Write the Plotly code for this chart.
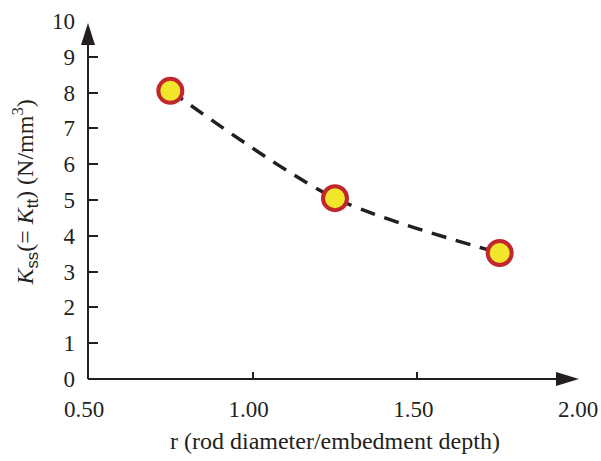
import plotly.graph_objects as go

# data
r_values = [0.75, 1.25, 1.75]
k_values = [8.05, 5.05, 3.52]
x_ticks = [0.5, 1.0, 1.5, 2.0]
x_tick_labels = ["0.50", "1.00", "1.50", "2.00"]
y_ticks = list(range(0, 11))
y_tick_labels = [str(v) for v in y_ticks]

X_RANGE = [0.5, 2.0]
Y_RANGE = [0, 10]
INK = "#231f20"
FONT = "Liberation Serif, Times New Roman, serif"

W, H = 601, 461
M = dict(l=88, r=19, t=21, b=82)
plot_w = W - M["l"] - M["r"]
plot_h = H - M["t"] - M["b"]
px_x = 1.0 / plot_w   # paper units per pixel
px_y = 1.0 / plot_h

fig = go.Figure()

# dashed trend curve
fig.add_trace(go.Scatter(
    x=r_values, y=k_values, mode="lines",
    line=dict(color=INK, width=3.5, dash="15px,10px", shape="spline", smoothing=0.8),
    hoverinfo="skip", showlegend=False,
))
# markers
fig.add_trace(go.Scatter(
    x=r_values, y=k_values, mode="markers",
    marker=dict(size=24, color="#f2e62a", line=dict(color="#c1272d", width=4)),
    showlegend=False,
))

# axis lines with arrow heads (paper coordinates so they are not clipped)
x_tip = 1 - 3 * px_x
y_tip = 1 - 2 * px_y
fig.add_shape(type="line", xref="paper", yref="paper",
              x0=0, y0=0, x1=x_tip - 5 * px_x, y1=0,
              line=dict(color=INK, width=2), layer="above")
fig.add_shape(type="line", xref="paper", yref="paper",
              x0=0, y0=0, x1=0, y1=y_tip - 5 * px_y,
              line=dict(color=INK, width=2), layer="above")
fig.add_shape(type="path", xref="paper", yref="paper",
              path=(f"M{x_tip:.5f},0 L{x_tip - 23 * px_x:.5f},{7 * px_y:.5f} "
                    f"L{x_tip - 23 * px_x:.5f},{-7 * px_y:.5f} Z"),
              fillcolor=INK, line=dict(width=0), layer="above")
fig.add_shape(type="path", xref="paper", yref="paper",
              path=(f"M0,{y_tip:.5f} L{-7 * px_x:.5f},{y_tip - 22 * px_y:.5f} "
                    f"L{7 * px_x:.5f},{y_tip - 22 * px_y:.5f} Z"),
              fillcolor=INK, line=dict(width=0), layer="above")

fig.update_xaxes(
    range=X_RANGE, tickvals=x_ticks, ticktext=x_tick_labels,
    ticks="inside", ticklen=7, tickwidth=1.6, tickcolor=INK,
    showline=False, showgrid=False, zeroline=False, automargin=False,
    tickfont=dict(family=FONT, size=23, color=INK), ticklabelstandoff=14,
    ticklabelshift=-4, ticklabeloverflow="allow",
)
fig.update_yaxes(
    range=Y_RANGE, tickvals=y_ticks, ticktext=y_tick_labels,
    ticks="inside", ticklen=10, tickwidth=1.6, tickcolor=INK,
    showline=False, showgrid=False, zeroline=False, automargin=False,
    tickfont=dict(family=FONT, size=23, color=INK), ticklabelstandoff=12,
)

fig.add_annotation(
    text="r (rod diameter/embedment depth)", xref="paper", yref="paper",
    x=0.5, y=-0.172, xanchor="center", yanchor="middle", showarrow=False,
    font=dict(family=FONT, size=24, color=INK),
)
fig.add_annotation(
    text=("<i>K</i><span style='font-family:Liberation Sans'><sub>ss</sub></span>(= "
          "<i>K</i><span style='font-family:Liberation Sans'><sub>tt</sub></span>) (N/mm<sup>3</sup>)"),
    xref="paper", yref="paper", x=-0.128, y=0.52, xanchor="center", yanchor="middle",
    textangle=-90, showarrow=False, font=dict(family=FONT, size=24, color=INK),
)

fig.update_layout(
    width=W, height=H,
    margin=dict(M, autoexpand=False),
    paper_bgcolor="white", plot_bgcolor="white",
    font=dict(family=FONT, color=INK),
)

fig.write_html("out.html")
